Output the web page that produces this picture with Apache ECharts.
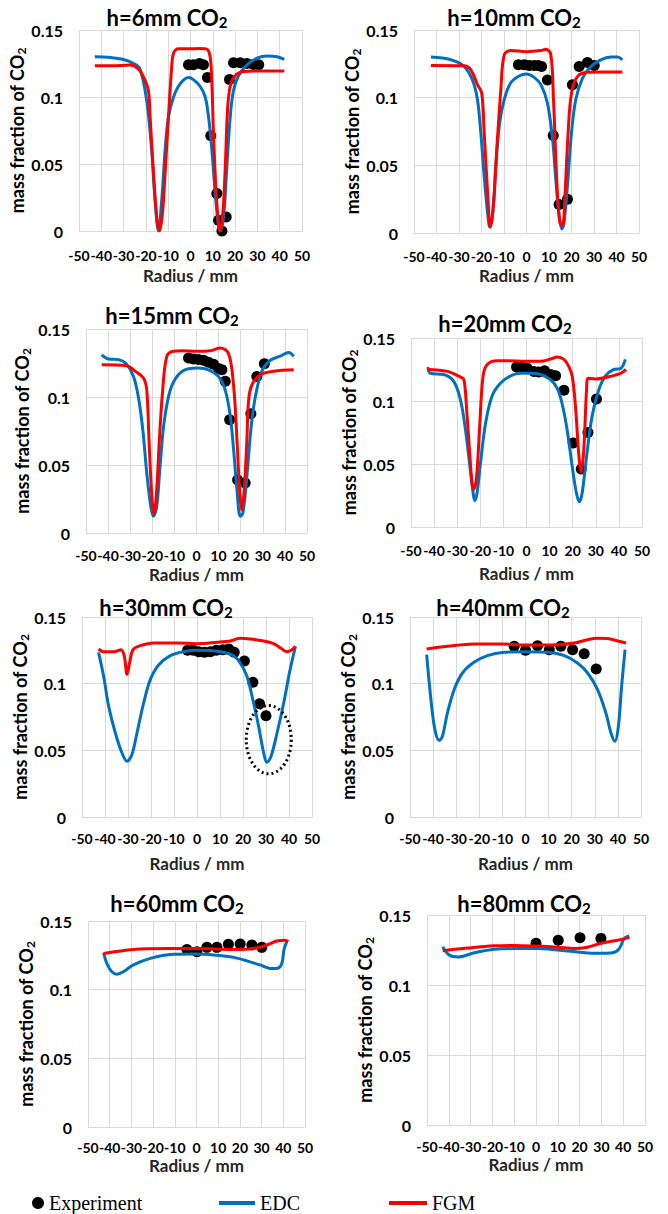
<!DOCTYPE html>
<html>
<head>
<meta charset="utf-8">
<script src="https://cdn.jsdelivr.net/npm/echarts@6/dist/echarts.min.js"></script>
<style>
html,body{margin:0;padding:0;background:#fff;}
#chart{width:668px;height:1214px;}
</style>
</head>
<body>
<div id="chart"></div>
<script>
// ---------- DATA ----------
const titles = ['h=6mm', 'h=10mm', 'h=15mm', 'h=20mm', 'h=30mm', 'h=40mm', 'h=60mm', 'h=80mm'];
const xTicks = [-50, -40, -30, -20, -10, 0, 10, 20, 30, 40, 50];
const yTicks = [0, 0.05, 0.1, 0.15];

const exp_h6 = [[-0.9,0.124],[1.3,0.124],[4.0,0.125],[5.8,0.124],[7.6,0.1146],[9.1,0.071],[11.8,0.028],[12.6,0.008],[14.1,0.0],[16.0,0.0105],[17.5,0.113],[19.3,0.1256],[22.3,0.1256],[25.3,0.125],[28.3,0.1243],[30.6,0.124]];
const edc_h6 = [[-42.9,0.130],[-36,0.1295],[-30,0.128],[-25.6,0.125],[-22.7,0.121],[-19.7,0.098],[-17.4,0.060],[-15.9,0.023],[-14.4,0.0],[-12.9,0.023],[-11.4,0.060],[-9.9,0.085],[-7.6,0.100],[-4.6,0.110],[-0.9,0.1146],[1.3,0.113],[4.3,0.108],[6.6,0.100],[8.1,0.085],[9.6,0.060],[11.1,0.028],[12.6,0.003],[13.3,0.0],[14.8,0.010],[16.3,0.048],[17.8,0.085],[19.3,0.105],[21.6,0.116],[25.3,0.124],[29.8,0.129],[34.3,0.1306],[38.8,0.130],[42.1,0.128]];
const fgm_h6 = [[-42.9,0.1233],[-35,0.1233],[-27.1,0.1238],[-23.4,0.121],[-21.1,0.115],[-18.9,0.105],[-18.1,0.085],[-16.6,0.043],[-15.1,0.010],[-13.9,0.0],[-12.6,0.013],[-11.4,0.043],[-9.9,0.085],[-8.4,0.123],[-7.6,0.1326],[-5.4,0.136],[-1.6,0.136],[4.3,0.1362],[7.3,0.1357],[8.8,0.130],[9.6,0.110],[10.3,0.073],[11.5,0.028],[12.6,0.0055],[13.3,0.0],[14.5,0.013],[15.6,0.048],[16.6,0.090],[17.8,0.108],[20.1,0.116],[23.8,0.119],[31.3,0.1194],[42.1,0.1194]];

const exp_h10 = [[-3.6,0.1243],[-1,0.1243],[1.2,0.1238],[3.4,0.1238],[5.2,0.1238],[6.7,0.123],[9.3,0.113],[11.9,0.072],[14.5,0.021],[18.2,0.025],[20.4,0.1096],[23.4,0.123],[27.1,0.126],[30.1,0.1238]];
const edc_h10 = [[-42.5,0.130],[-33.6,0.128],[-27.7,0.123],[-24,0.113],[-21.8,0.0986],[-20.3,0.074],[-18.8,0.042],[-17.3,0.015],[-16.3,0.0044],[-15.1,0.013],[-13.6,0.050],[-12.1,0.079],[-9.9,0.0986],[-7.0,0.111],[-3.3,0.116],[0,0.1175],[3.4,0.115],[6.4,0.1096],[9.3,0.096],[11.6,0.069],[13,0.040],[14.5,0.013],[15.7,0.003],[16.7,0.008],[18.2,0.035],[20,0.074],[21.9,0.0986],[24.9,0.1145],[28.6,0.123],[33,0.128],[37.5,0.130],[40.4,0.130],[42.6,0.128]];
const fgm_h10 = [[-42.5,0.1238],[-27.7,0.1236],[-24.7,0.1206],[-21.8,0.1096],[-19.9,0.1035],[-18.8,0.074],[-17.3,0.030],[-16.1,0.0044],[-14.7,0.020],[-13.2,0.062],[-11.4,0.106],[-9.9,0.1316],[-7.0,0.1348],[0,0.134],[6.4,0.1348],[8.6,0.1358],[10.8,0.132],[12,0.0986],[13.5,0.037],[14.8,0.008],[16,0.0056],[17,0.025],[18.5,0.074],[20,0.1035],[22.7,0.1157],[27.1,0.1187],[33,0.119],[42.6,0.119]];

const exp_h15 = [[-3.6,0.1287],[-1.4,0.128],[0.9,0.1275],[3.2,0.127],[5.4,0.1255],[7.7,0.124],[10,0.121],[11.5,0.120],[13,0.1115],[15,0.0833],[18.6,0.039],[22,0.0368],[24.6,0.0877],[27.3,0.115],[30.7,0.1245]];
const edc_h15 = [[-42.9,0.131],[-39.9,0.128],[-35.3,0.1275],[-31.6,0.124],[-28.5,0.115],[-26.3,0.100],[-24.3,0.076],[-22.5,0.044],[-20.7,0.0196],[-19.5,0.0123],[-18,0.0196],[-16.5,0.049],[-14.7,0.081],[-11.9,0.105],[-8.2,0.1164],[-3.6,0.1208],[0.9,0.1213],[5.4,0.120],[10,0.115],[13,0.105],[15.3,0.0858],[16.8,0.061],[18.3,0.032],[19.8,0.0123],[21,0.0147],[22.8,0.0417],[24.6,0.076],[26.6,0.100],[29.6,0.119],[33.4,0.127],[37.9,0.130],[41.7,0.1328],[44,0.130]];
const fgm_h15 = [[-42.9,0.1238],[-31.6,0.123],[-27.8,0.119],[-24,0.114],[-22.5,0.105],[-21.5,0.0686],[-20.2,0.027],[-19.2,0.0135],[-18,0.032],[-16.8,0.0686],[-15.3,0.105],[-13.4,0.130],[-10.4,0.1336],[-6.6,0.134],[0,0.1336],[6.2,0.134],[10.7,0.136],[14.5,0.132],[16.8,0.108],[18.3,0.0686],[19.5,0.032],[20.5,0.017],[21.6,0.032],[22.8,0.0686],[23.6,0.098],[25.1,0.109],[28.9,0.1164],[34.9,0.119],[44,0.120]];

const exp_h20 = [[-4.3,0.127],[-1.9,0.127],[0.3,0.126],[3.2,0.1235],[5.3,0.123],[7.8,0.124],[10.4,0.121],[12.6,0.120],[16.2,0.1085],[20.2,0.0667],[23.7,0.046],[26.6,0.075],[30.3,0.1016]];
const edc_h20 = [[-42.7,0.127],[-41.6,0.122],[-35.8,0.121],[-31.5,0.1156],[-28.6,0.101],[-26.4,0.077],[-24.5,0.048],[-23.1,0.027],[-22.4,0.021],[-21.4,0.027],[-19.9,0.051],[-17.7,0.0825],[-14.9,0.104],[-11.3,0.114],[-6.9,0.120],[-2.6,0.122],[1.7,0.122],[6.1,0.121],[10.4,0.117],[13.3,0.110],[15.4,0.098],[17.6,0.077],[19.8,0.048],[21.6,0.027],[22.9,0.020],[24.1,0.027],[26,0.056],[28.4,0.088],[31.3,0.109],[34.2,0.120],[37.8,0.125],[40.7,0.1257],[42.8,0.133]];
const fgm_h20 = [[-42.7,0.125],[-34.3,0.1235],[-28.6,0.119],[-27.1,0.117],[-26,0.0958],[-24.5,0.056],[-23.4,0.032],[-22.8,0.030],[-21.6,0.040],[-20.2,0.0825],[-18.8,0.1196],[-17,0.129],[-12.7,0.132],[-8.4,0.132],[0,0.1315],[6.1,0.1315],[10.4,0.1333],[13.3,0.135],[16.2,0.133],[18.3,0.1275],[19.8,0.1196],[21.2,0.0958],[22.7,0.056],[23.7,0.0434],[24.8,0.0614],[26,0.109],[26.7,0.118],[29.9,0.1175],[34.9,0.119],[40.7,0.122],[43.1,0.125]];

const exp_h30 = [[-4.1,0.125],[-1.7,0.125],[0.7,0.124],[3.2,0.1235],[5.8,0.124],[8.4,0.125],[11.3,0.1255],[13.8,0.126],[16.2,0.1235],[20.6,0.117],[24.3,0.101],[27.2,0.085],[30,0.076]];
const edc_h30 = [[-42.8,0.1235],[-40.6,0.1055],[-38.4,0.083],[-35.5,0.063],[-32.6,0.048],[-30.4,0.0418],[-28.3,0.0468],[-26.1,0.063],[-23.2,0.0855],[-20.3,0.103],[-16.7,0.114],[-11.6,0.121],[-5.8,0.124],[0,0.125],[5.8,0.1248],[11.6,0.1235],[15.9,0.121],[18.8,0.1155],[21.7,0.1055],[24.6,0.0855],[26.8,0.068],[29,0.048],[30.4,0.041],[32.2,0.0455],[34.8,0.063],[37.7,0.0855],[40.3,0.109],[42.8,0.128]];
const fgm_h30 = [[-42.8,0.126],[-40.6,0.124],[-36.2,0.124],[-33,0.1255],[-31.6,0.1205],[-30.4,0.107],[-29.3,0.1155],[-27.8,0.1255],[-24.6,0.1285],[-18.8,0.1305],[-8.7,0.1305],[0,0.130],[8.7,0.131],[14.5,0.132],[18.8,0.134],[23.2,0.1335],[29,0.132],[33.3,0.130],[36.2,0.127],[39.1,0.124],[41.3,0.1255],[42.8,0.128]];
const ellipse_h30 = {r: 31.2, v: 0.058, dr: 9.8, dv: 0.0256};

const exp_h40 = [[-4.9,0.128],[0,0.125],[5.2,0.1285],[10.3,0.1255],[15.3,0.128],[20.4,0.1255],[25.4,0.1225],[30.6,0.111]];
const edc_h40 = [[-42.8,0.1218],[-41.8,0.103],[-40.3,0.078],[-38.9,0.063],[-37.4,0.0575],[-36,0.0605],[-33.8,0.078],[-30.9,0.0955],[-27.3,0.108],[-22.3,0.116],[-16.5,0.121],[-9.2,0.1235],[0,0.124],[9.5,0.1235],[16.8,0.121],[22.5,0.1155],[26.9,0.108],[31.2,0.0955],[34.8,0.078],[37,0.063],[38.7,0.0568],[40.2,0.068],[41.6,0.098],[43.1,0.1255]];
const fgm_h40 = [[-42.8,0.126],[-33.8,0.128],[-22.3,0.1298],[-10.7,0.1298],[0,0.129],[11,0.129],[21.1,0.1305],[26.9,0.133],[31.2,0.134],[35.5,0.1338],[39.9,0.132],[43.5,0.1305]];

const exp_h60 = [[-4.4,0.1293],[0.2,0.1276],[4.8,0.1308],[9.4,0.1308],[14.7,0.133],[20.1,0.1332],[25.5,0.1325],[30.1,0.1308]];
const edc_h60 = [[-42.8,0.127],[-41.3,0.119],[-39,0.113],[-36.7,0.1113],[-33.7,0.113],[-29.1,0.118],[-21.3,0.1228],[-10.6,0.1257],[0,0.126],[9.4,0.125],[17,0.1235],[23.2,0.121],[29.3,0.118],[33.9,0.1155],[36.9,0.1155],[39.3,0.119],[40.3,0.129],[41.6,0.135]];
const fgm_h60 = [[-42.8,0.1264],[-29.1,0.1293],[-13.7,0.130],[0,0.130],[17,0.1293],[26.2,0.130],[32.4,0.1325],[37,0.1354],[40.8,0.136],[42.3,0.135]];

const exp_h80 = [[0,0.1298],[10.2,0.132],[20.2,0.1338],[29.8,0.1333]];
const edc_h80 = [[-42.8,0.1274],[-39.8,0.1214],[-35.9,0.120],[-28.3,0.123],[-19.1,0.1255],[-9.9,0.126],[0,0.126],[9.9,0.125],[19.1,0.1236],[28.3,0.1226],[35.2,0.123],[38.2,0.126],[40.5,0.1333],[42.8,0.135]];
const fgm_h80 = [[-42.8,0.1245],[-31.3,0.1264],[-19.1,0.128],[-9.9,0.1283],[0,0.1278],[9.9,0.127],[17.6,0.126],[23.7,0.127],[29.8,0.1298],[37.5,0.132],[42.8,0.134]];

const expSets = [exp_h6, exp_h10, exp_h15, exp_h20, exp_h30, exp_h40, exp_h60, exp_h80];
const edcSets = [edc_h6, edc_h10, edc_h15, edc_h20, edc_h30, edc_h40, edc_h60, edc_h80];
const fgmSets = [fgm_h6, fgm_h10, fgm_h15, fgm_h20, fgm_h30, fgm_h40, fgm_h60, fgm_h80];

// ---------- LAYOUT ----------
const layout = [
  {l:79,  t:30,  w:223, h:201, tx:167, ty:17,  yGap:47, xGap:36, xm:17},
  {l:414, t:30,  w:225, h:203, tx:514, ty:17,  yGap:49, xGap:34, xm:16},
  {l:86,  t:329, w:221, h:204, tx:172, ty:315, yGap:54, xGap:33, xm:15},
  {l:411, t:338, w:231, h:189, tx:505, ty:323, yGap:45, xGap:38, xm:16},
  {l:82,  t:617, w:230, h:200, tx:166, ty:607, yGap:48, xGap:38, xm:14},
  {l:410, t:617, w:231, h:200, tx:503, ty:607, yGap:40, xGap:38, xm:14},
  {l:88,  t:921, w:217, h:206, tx:177, ty:903, yGap:51, xGap:30, xm:13},
  {l:427, t:915, w:218, h:210, tx:524, ty:903, yGap:47, xGap:31, xm:14}
];

const FONT = 'Lato';
const BLUE = '#0070C0';
const RED = '#FF0000';
const GRIDC = '#d9d9d9';

const grids = [], xAxes = [], yAxes = [], series = [];
layout.forEach((L, i) => {
  grids.push({left: L.l, top: L.t, width: L.w, height: L.h, containLabel: false});
  xAxes.push({
    type: 'value', gridIndex: i, min: xTicks[0], max: xTicks[xTicks.length - 1], interval: xTicks[1] - xTicks[0],
    name: 'Radius / mm', nameLocation: 'middle', nameGap: L.xGap,
    nameTextStyle: {fontFamily: FONT, fontWeight: 'bold', fontSize: 17, color: '#262626'},
    axisLine: {show: true, onZero: false, lineStyle: {color: GRIDC, width: 1}},
    axisTick: {show: false},
    axisLabel: {fontFamily: FONT, fontWeight: 'bold', fontSize: 14, color: '#000', margin: L.xm,
      hideOverlap: false, showMinLabel: true, showMaxLabel: true},
    splitLine: {show: true, lineStyle: {color: GRIDC, width: 1}}
  });
  yAxes.push({
    type: 'value', gridIndex: i, min: yTicks[0], max: yTicks[yTicks.length - 1], interval: yTicks[1] - yTicks[0],
    name: 'mass fraction of CO{s|2}', nameLocation: 'middle', nameGap: L.yGap,
    nameTextStyle: {fontFamily: FONT, fontWeight: 'bold', fontSize: 18, color: '#000', lineHeight: 20,
      rich: {s: {fontFamily: FONT, fontWeight: 'bold', fontSize: 12, color: '#000', verticalAlign: 'bottom', lineHeight: 16}}},
    axisLine: {show: false},
    axisTick: {show: false},
    axisLabel: {fontFamily: FONT, fontWeight: 'bold', fontSize: 16, color: '#000', margin: 16,
      showMinLabel: true, showMaxLabel: true},
    splitLine: {show: true, lineStyle: {color: GRIDC, width: 1}}
  });
  series.push({
    name: 'Experiment', type: 'scatter', xAxisIndex: i, yAxisIndex: i, data: expSets[i],
    symbol: 'circle', symbolSize: 11, itemStyle: {color: '#000', opacity: 1}, z: 2
  });
  series.push({
    name: 'EDC', type: 'line', xAxisIndex: i, yAxisIndex: i, data: edcSets[i],
    showSymbol: false, smooth: 0.35, lineStyle: {color: BLUE, width: 3}, itemStyle: {color: BLUE}, z: 3
  });
  series.push({
    name: 'FGM', type: 'line', xAxisIndex: i, yAxisIndex: i, data: fgmSets[i],
    showSymbol: false, smooth: 0.35, lineStyle: {color: RED, width: 3}, itemStyle: {color: RED}, z: 4
  });
});

const legendText = {fontFamily: 'Liberation Serif', fontSize: 20, color: '#000'};
const chart = echarts.init(document.getElementById('chart'), null, {renderer: 'svg'});
chart.setOption({
  animation: false,
  backgroundColor: '#fff',
  grid: grids, xAxis: xAxes, yAxis: yAxes, series: series,
  legend: [
    {data: ['Experiment'], left: 27, top: 1188, icon: 'circle', itemWidth: 12, itemHeight: 12, selectedMode: false, textStyle: legendText},
    {data: ['EDC'], left: 214, top: 1188, icon: 'rect', itemWidth: 36, itemHeight: 4, selectedMode: false, textStyle: legendText},
    {data: ['FGM'], left: 384, top: 1188, icon: 'rect', itemWidth: 38, itemHeight: 4, selectedMode: false, textStyle: legendText}
  ]
});

// titles + annotation ellipse
const graphics = layout.map((L, i) => ({
  type: 'text', x: L.tx, y: L.ty, z: 10,
  style: {
    text: titles[i] + ' CO{s|2}',
    fontFamily: FONT, fontWeight: 'bold', fontSize: 22, fill: '#000', lineHeight: 24,
    align: 'center', verticalAlign: 'middle', textAlign: 'center', textVerticalAlign: 'middle',
    rich: {s: {fontFamily: FONT, fontWeight: 'bold', fontSize: 15, fill: '#000', verticalAlign: 'bottom', lineHeight: 20}}
  }
}));
const c = chart.convertToPixel({gridIndex: 4}, [ellipse_h30.r, ellipse_h30.v]);
const e1 = chart.convertToPixel({gridIndex: 4}, [ellipse_h30.r + ellipse_h30.dr, ellipse_h30.v + ellipse_h30.dv]);
graphics.push({
  type: 'ellipse', z: 10,
  shape: {cx: c[0], cy: c[1], rx: Math.abs(e1[0] - c[0]), ry: Math.abs(c[1] - e1[1])},
  style: {fill: 'none', stroke: '#000', lineWidth: 3, lineDash: [2, 3]}
});
chart.setOption({graphic: graphics});
</script>
</body>
</html>
